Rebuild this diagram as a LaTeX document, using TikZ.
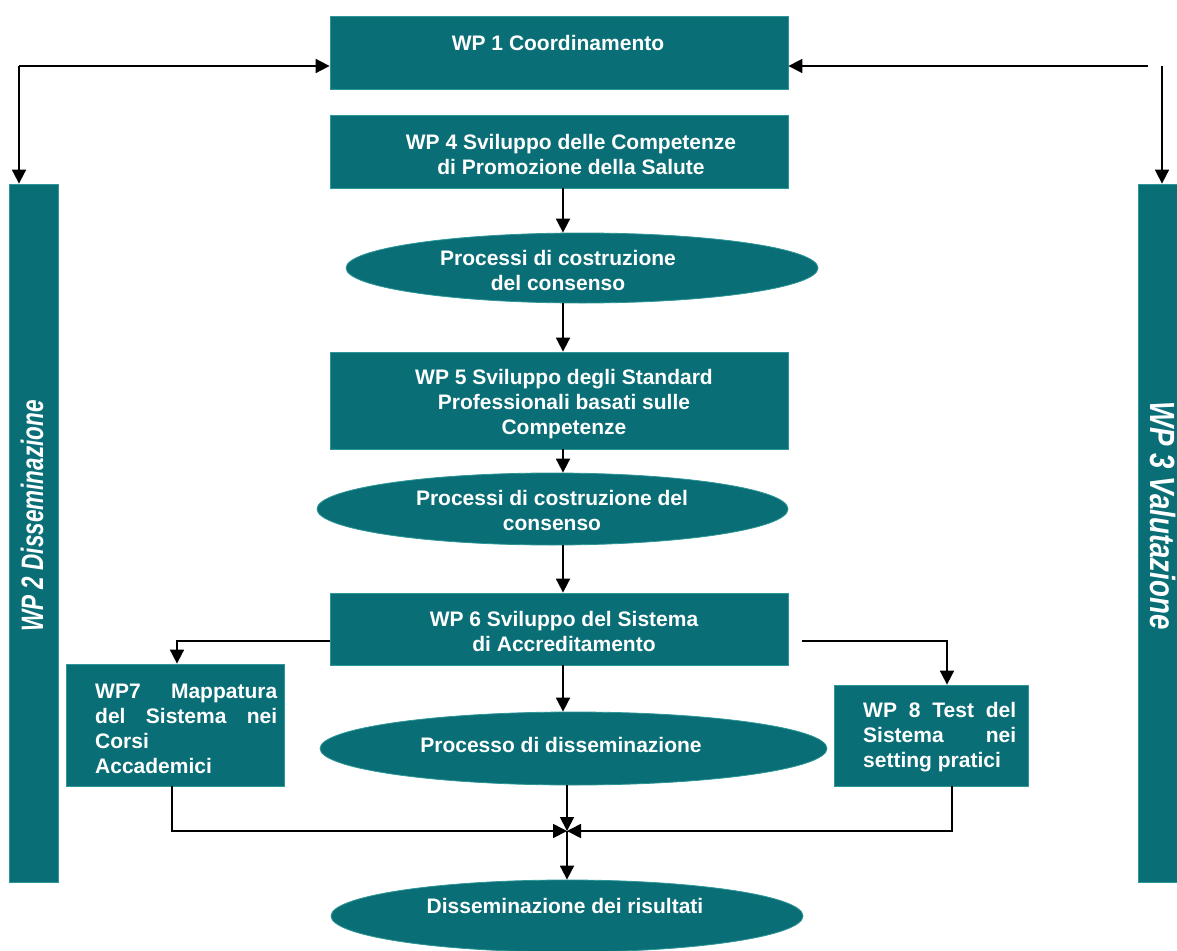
\documentclass[tikz,border=0pt]{standalone}
\usepackage{fontspec}
\setmainfont{Liberation Sans}
\newfontfamily\sidefont[FakeStretch=0.725]{Liberation Sans}
\newfontfamily\sidefontb[FakeStretch=0.79]{Liberation Sans}
\usetikzlibrary{shapes.geometric,arrows.meta}
\definecolor{teal0}{RGB}{10,110,118}
\definecolor{tealb}{RGB}{45,150,150}
\tikzset{
  boxnode/.style={draw=tealb,line width=0.8pt,fill=teal0,inner sep=0pt},
  ellnode/.style={ellipse,draw=tealb,line width=0.8pt,fill=teal0,inner sep=0pt},
  txt/.style={text=white,font=\bfseries\fontsize{21}{25}\selectfont,align=center,inner sep=0pt},
  sidetxt/.style={text=white,font=\sidefont\bfseries\itshape\fontsize{31}{36}\selectfont,inner sep=0pt},
  sidetxtb/.style={text=white,font=\sidefontb\bfseries\itshape\fontsize{35}{40}\selectfont,inner sep=0pt},
  arr/.style={line width=1.8pt,-{Triangle[length=14pt,width=14pt]}},
  ln/.style={line width=1.8pt}
}
\begin{document}
\begin{tikzpicture}[x=1pt,y=-1pt]
\useasboundingbox (0,0) rectangle (1177,950);
% boxes
\node[boxnode,minimum width=458pt,minimum height=73pt] (wp1) at (559,52.5) {};
\node[boxnode,minimum width=458pt,minimum height=73pt] (wp4) at (559,151.5) {};
\node[ellnode,minimum width=472pt,minimum height=70pt] (e1) at (582,268) {};
\node[boxnode,minimum width=458pt,minimum height=97pt] (wp5) at (559,400.5) {};
\node[ellnode,minimum width=471pt,minimum height=72pt] (e2) at (552.5,509) {};
\node[boxnode,minimum width=458pt,minimum height=72pt] (wp6) at (559,629) {};
\node[boxnode,minimum width=218pt,minimum height=122pt] (wp7) at (175,725) {};
\node[ellnode,minimum width=507pt,minimum height=73pt] (e3) at (573.5,748.5) {};
\node[boxnode,minimum width=194pt,minimum height=101pt] (wp8) at (931,735.5) {};
\node[ellnode,minimum width=472pt,minimum height=72pt] (e4) at (567,916) {};
\node[boxnode,minimum width=49pt,minimum height=698pt] (left) at (33.5,533) {};
\node[boxnode,minimum width=49pt,minimum height=698pt] (right) at (1162.5,533) {};
% texts
\node[txt] (t1) at (558,43) {WP 1 Coordinamento};
\node[txt] (t4) at (571,154) {WP 4 Sviluppo delle Competenze\\di Promozione della Salute};
\node[txt] (te1) at (558,270) {Processi di costruzione\\del consenso};
\node[txt] (t5) at (564,404) {WP 5 Sviluppo degli Standard\\Professionali basati sulle\\Competenze};
\node[txt] (te2) at (552,510) {Processi di costruzione del\\consenso};
\node[txt] (t6) at (564,631) {WP 6 Sviluppo del Sistema\\di Accreditamento};
\node[txt,align=left,anchor=west] (t7) at (95,729) {\hbox to 182pt{WP7\hfill Mappatura}\\\hbox to 182pt{del\hfill Sistema\hfill nei}\\Corsi\\Accademici};
\node[txt] (te3) at (561,745) {Processo di disseminazione};
\node[txt,align=left,anchor=west] (t8) at (863,737) {\hbox to 153pt{WP\hfill 8\hfill Test\hfill del}\\\hbox to 153pt{Sistema\hfill nei}\\setting pratici};
\node[txt] (te4) at (565,906) {Disseminazione dei risultati};
\node[sidetxt,rotate=90] (t2) at (32,516) {WP 2 Disseminazione};
\node[sidetxtb,rotate=-90] (t3) at (1163,515.5) {WP 3 Valutazione};
% helper coordinates
\coordinate (tl) at (19,66);
\coordinate (tr) at (1148,66);
\coordinate (tr2) at (1162,66);
\coordinate (ax) at (563,0);
\coordinate (bx) at (567,0);
\coordinate (y6) at (0,641);
\coordinate (x7) at (177,0);
\coordinate (s8) at (802,641);
\coordinate (x8) at (947,0);
\coordinate (x7b) at (172,0);
\coordinate (x8b) at (952,0);
\coordinate (m) at (567,831);
% connectors
\draw[arr] (tl) -- (tl -| wp1.west);
\draw[arr] (tl) -- (tl |- left.north);
\draw[arr] (tr) -- (tr -| wp1.east);
\draw[arr] (tr2) -- (tr2 |- right.north);
\draw[arr] (ax |- wp4.south) -- (ax |- e1.north);
\draw[arr] (ax |- e1.south) -- (ax |- wp5.north);
\draw[arr] (ax |- wp5.south) -- (ax |- e2.north);
\draw[arr] (ax |- e2.south) -- (ax |- wp6.north);
\draw[arr] (ax |- wp6.south) -- (ax |- e3.north);
\draw[arr] (wp6.west |- y6) -| (x7 |- wp7.north);
\draw[arr] (s8) -| (x8 |- wp8.north);
\draw[arr] (bx |- e3.south) -- (m);
\draw[arr] (x7b |- wp7.south) |- (m);
\draw[arr] (x8b |- wp8.south) |- (m);
\draw[arr] (m) -- (e4.north);
\end{tikzpicture}
\end{document}
